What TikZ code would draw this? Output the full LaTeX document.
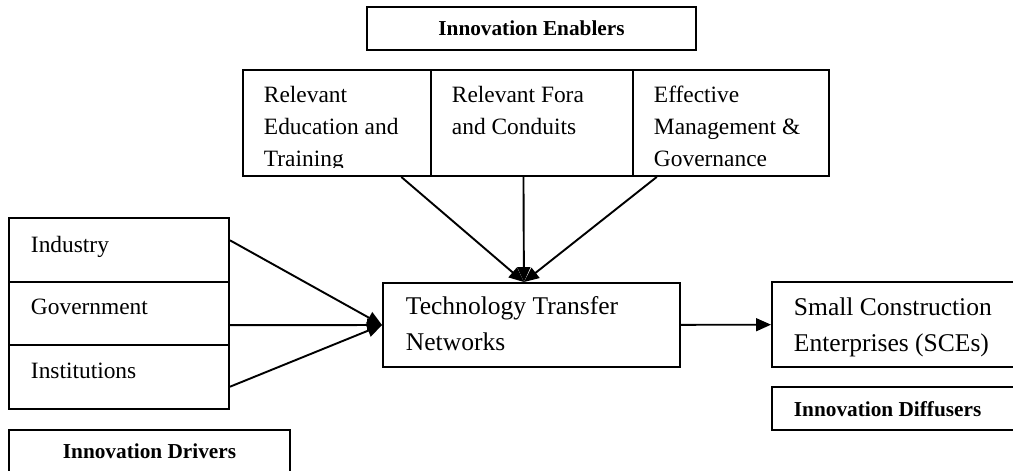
\documentclass[tikz,border=0pt]{standalone}
\usepackage{fontspec}
\setmainfont{Liberation Serif}
\usetikzlibrary{arrows.meta}

\begin{document}
\begin{tikzpicture}[x=0.47pt, y=-0.47pt, line width=0.9pt,
    box/.style={draw, rectangle, inner sep=0pt},
    lbl/.style={anchor=base west, inner sep=0pt, align=left, font=\fontsize{11}{15}\selectfont},
    big/.style={anchor=base west, inner sep=0pt, align=left, font=\fontsize{12}{16.5}\selectfont},
    head/.style={inner sep=0pt, font=\bfseries\fontsize{10}{12}\selectfont},
    >={Triangle[length=7pt, width=6pt]}]

    \clip (0,0) rectangle (1013,470);

    % enablers (text placed by the baseline of its last line)
    \node [box, head, minimum width=154.6pt, minimum height=20.2pt] (enab) at (531.5, 28.5) {Innovation Enablers};
    \node [box, minimum width=88.4pt, minimum height=49.8pt] (edu) at (337, 123) {};
    \node [box, minimum width=94.9pt, minimum height=49.8pt] (fora) at (532, 123) {};
    \node [box, minimum width=92.1pt, minimum height=49.8pt] (mgmt) at (731, 123) {};
    \begin{scope}
      \clip (243, 70) rectangle (829, 167);
      \node [lbl] (edutxt) at (263, 166) {Relevant\\Education and\\Training};
      \node [lbl] (foratxt) at (451, 134) {Relevant Fora\\and Conduits};
      \node [lbl] (mgmttxt) at (653, 166) {Effective\\Management \&\\Governance};
    \end{scope}

    % drivers
    \node [box, minimum width=103.4pt, minimum height=30.1pt] (ind) at (119, 250) {};
    \node [box, minimum width=103.4pt, minimum height=29.6pt] (gov) at (119, 313.5) {};
    \node [box, minimum width=103.4pt, minimum height=30.1pt] (ins) at (119, 377) {};
    \node [lbl] (indtxt) at (30, 252) {Industry};
    \node [lbl] (govtxt) at (30, 314) {Government};
    \node [lbl] (instxt) at (30, 378) {Institutions};
    \node [box, minimum width=132.1pt, minimum height=22.6pt] (drv) at (149.5, 454) {};
    \node [head, anchor=base] (drvtxt) at (149.5, 458) {Innovation Drivers};

    % network and diffusers
    \node [box, minimum width=139.6pt, minimum height=39.5pt] (tech) at (531.5, 325) {};
    \node [big] (techtxt) at (405, 350) {Technology Transfer\\Networks};
    \node [box, minimum width=118.9pt, minimum height=40pt] (sce) at (898.5, 324.5) {};
    \node [big] (scetxt) at (793, 351) {Small Construction\\Enterprises (SCEs)};
    \node [box, minimum width=118.9pt, minimum height=20.2pt] (diff) at (898.5, 408.5) {};
    \node [head, anchor=base west] (difftxt) at (793, 416) {Innovation Diffusers};

 \path[->]
      (ind.5) edge (tech.west)
      (gov.-6) edge (tech.west)
      (ins.-5) edge (tech.west)
      (edu.-40) edge (tech.100)
      (fora.261) edge (tech.100)
      (mgmt.216) edge (tech.100)
      (tech) edge (sce);
\end{tikzpicture}
\end{document}
